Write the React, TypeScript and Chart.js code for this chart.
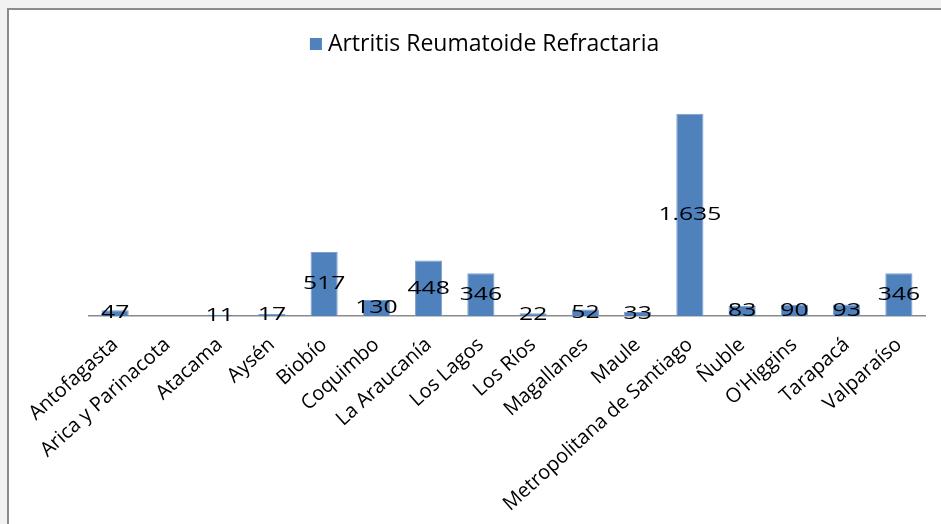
import { useEffect, useRef } from "react";
import { Chart, registerables } from "chart.js";

Chart.register(...registerables);

const categories = [
  "Antofagasta",
  "Arica y Parinacota",
  "Atacama",
  "Aysén",
  "Biobío",
  "Coquimbo",
  "La Araucanía",
  "Los Lagos",
  "Los Ríos",
  "Magallanes",
  "Maule",
  "Metropolitana de Santiago",
  "Ñuble",
  "O'Higgins",
  "Tarapacá",
  "Valparaíso",
];
const values: (number | null)[] = [47, null, 11, 17, 517, 130, 448, 346, 22, 52, 33, 1635, 83, 90, 93, 346];
const seriesName = "Artritis Reumatoide Refractaria";
const barColor = "#4f81bd";

const fmt = (v: number) => String(v).replace(/\B(?=(\d{3})+(?!\d))/g, ".");

const framePlugin = {
  id: "frame",
  beforeDraw(chart: any) {
    const { ctx, width, height } = chart;
    ctx.save();
    ctx.fillStyle = "#f2f2f2";
    ctx.fillRect(0, 0, width, height);
    ctx.fillStyle = "#ffffff";
    ctx.fillRect(9, 10, width - 9, height - 10);
    ctx.fillStyle = "#8c8c8c";
    ctx.fillRect(7, 8, 2, height - 8);
    ctx.fillRect(7, 8, width - 7, 2);
    ctx.restore();
  },
};

const legendPlugin = {
  id: "customLegend",
  afterDraw(chart: any) {
    const { ctx, width } = chart;
    ctx.save();
    ctx.font = "23px 'Open Sans'";
    const tw = ctx.measureText(seriesName).width;
    const box = 12;
    const gap = 6;
    const total = box + gap + tw;
    const cx = width * 0.515;
    const x0 = cx - total / 2;
    const cy = 44;
    ctx.fillStyle = barColor;
    ctx.fillRect(x0, cy - box / 2, box, box);
    ctx.fillStyle = "#000000";
    ctx.textAlign = "left";
    ctx.textBaseline = "middle";
    ctx.fillText(seriesName, x0 + box + gap, cy);
    ctx.restore();
  },
};

const labelPlugin = {
  id: "valueLabels",
  afterDatasetsDraw(chart: any) {
    const { ctx } = chart;
    const meta = chart.getDatasetMeta(0);
    ctx.save();
    ctx.fillStyle = "#000000";
    ctx.font = "19px 'Open Sans'";
    ctx.textAlign = "center";
    ctx.textBaseline = "middle";
    meta.data.forEach((el: any, i: number) => {
      const v = values[i];
      if (v === null || v === undefined) return;
      const y = (el.y + el.base) / 2;
      ctx.save();
      ctx.translate(el.x, y);
      ctx.scale(1.3, 1);
      ctx.fillText(fmt(v), 0, 0);
      ctx.restore();
    });
    ctx.restore();
  },
};

export default function App() {
  const ref = useRef<HTMLCanvasElement>(null);
  useEffect(() => {
    document.body.style.margin = "0";
    const chart = new Chart(ref.current!, {
      type: "bar",
      data: {
        labels: categories,
        datasets: [
          {
            label: seriesName,
            data: values,
            backgroundColor: barColor,
            borderColor: "#7a9fd0",
            borderWidth: 1,
            categoryPercentage: 0.52,
            barPercentage: 1,
          },
        ],
      },
      options: {
        animation: false,
        responsive: false,
        layout: { padding: { left: 89, right: 16, top: 66, bottom: 0 } },
        plugins: {
          legend: { display: false },
          tooltip: { enabled: false },
        },
        scales: {
          x: {
            grid: { display: false, drawTicks: false },
            border: { display: true, color: "#8a8a8a", width: 1.5 },
            ticks: {
              font: { family: "'Open Sans'", size: 20 },
              color: "#000000",
              minRotation: 42,
              maxRotation: 42,
              padding: 17,
              autoSkip: false,
            },
            afterFit(scale: any) {
              scale.height = 208;
            },
          },
          y: {
            display: false,
            min: 0,
            max: 2020,
          },
        },
      },
      plugins: [framePlugin, labelPlugin, legendPlugin],
    });
    return () => chart.destroy();
  }, []);
  return <canvas ref={ref} width={941} height={524} style={{ display: "block", width: 941, height: 524 }} />;
}
